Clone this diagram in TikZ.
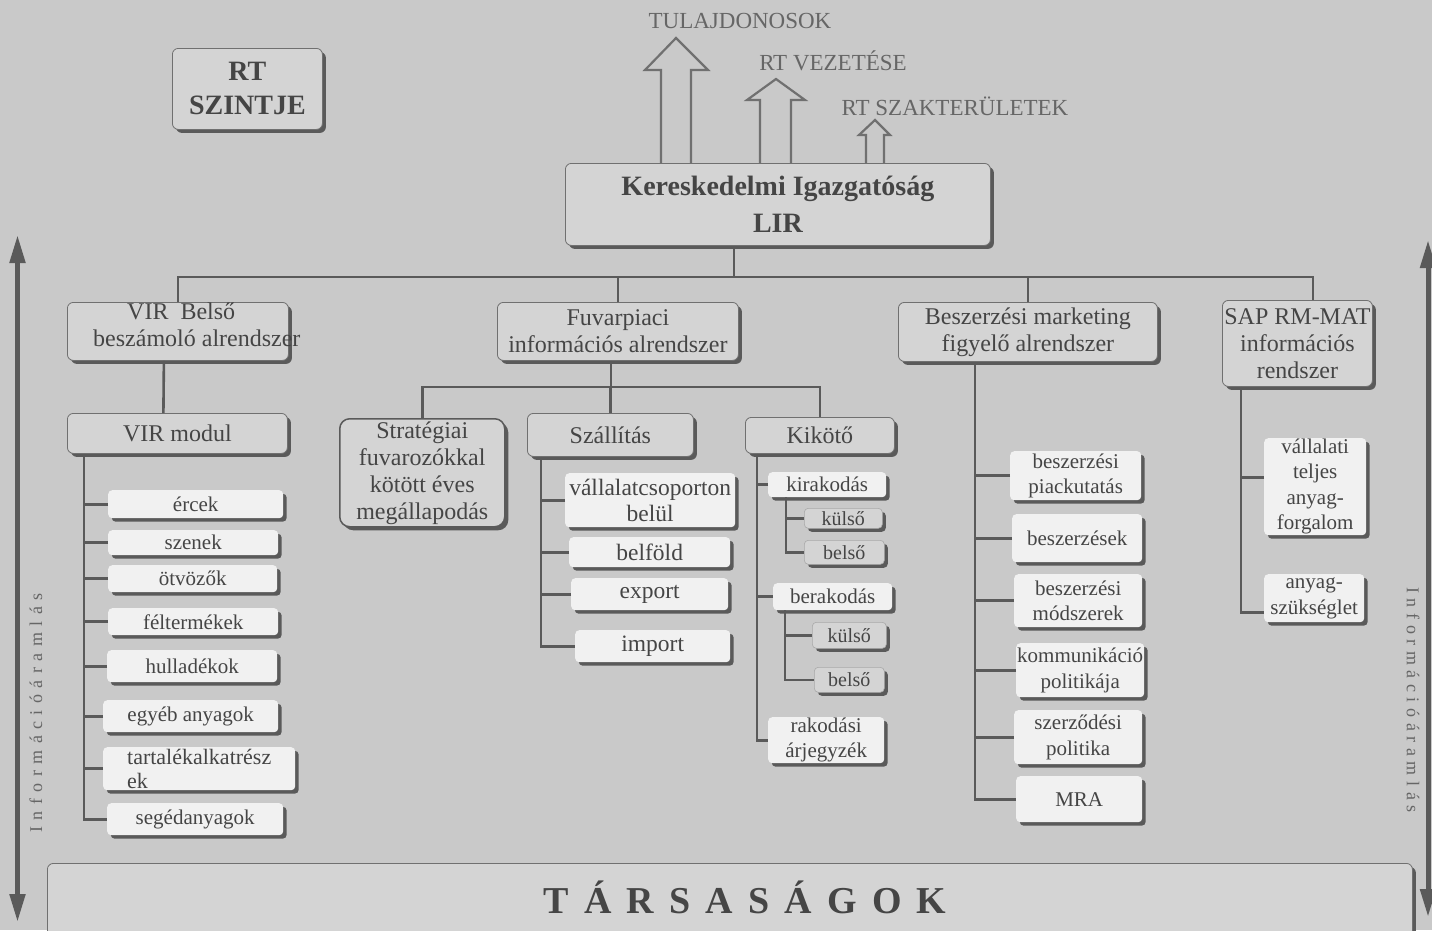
\documentclass[tikz,border=0pt]{standalone}
\usepackage{fontspec}
\setmainfont{Liberation Serif}
\usetikzlibrary{shadows,arrows.meta}
\definecolor{bgc}{HTML}{C9C9C9}
\definecolor{boxfill}{HTML}{D4D4D4}
\definecolor{whitefill}{HTML}{F1F1F1}
\definecolor{shadowc}{HTML}{5A5A5A}
\definecolor{edgec}{HTML}{707070}
\definecolor{linec}{HTML}{5A5A5A}
\definecolor{txt}{HTML}{454545}
\definecolor{lighttxt}{HTML}{666666}
\newcommand\mybox[7]{\node[#1,anchor=north west,minimum width=#5pt-#3pt,minimum height=#6pt-#4pt] (#2) at (#3,#4) {#7};}
\begin{document}
\begin{tikzpicture}[x=1pt,y=-1pt,
 shad/.style={drop shadow={shadow xshift=3.5pt,shadow yshift=-3.5pt,fill=shadowc,opacity=1}},
 graybox/.style={shad,draw=edgec,line width=0.8pt,fill=boxfill,rounded corners=6pt,inner sep=0pt,text=txt,align=center},
 lvl/.style={graybox,font=\fontsize{24}{27}\selectfont},
 item/.style={shad,fill=whitefill,rounded corners=4pt,inner sep=0pt,text=txt,align=center,font=\fontsize{21}{25.5}\selectfont},
 itemL/.style={item,font=\fontsize{23.5}{26}\selectfont},
 subbox/.style={shad,draw=edgec!60,line width=0.6pt,fill=boxfill,rounded corners=4pt,inner sep=0pt,text=txt,font=\fontsize{20}{24}\selectfont},
 conn/.style={draw=linec,line width=2.6pt},
 blockarrow/.style={draw=edgec,line width=2.2pt,line join=miter,fill=bgc},
 toplabel/.style={text=lighttxt,font=\fontsize{23}{27}\selectfont,anchor=base,inner sep=0pt},
 flow/.style={draw=linec,line width=5pt,{Triangle[length=28pt,width=15pt]}-{Triangle[length=28pt,width=15pt]}},
]
\useasboundingbox (0,0) rectangle (1432,930);
\fill[bgc] (0,0) rectangle (1432,930);

% top block arrows
\draw[blockarrow] (661,163) -- (661,70) -- (645,70) -- (676,38) -- (708,70) -- (691,70) -- (691,163);
\draw[blockarrow] (760,163) -- (760,100) -- (747,100) -- (776,79) -- (805,100) -- (791,100) -- (791,163);
\draw[blockarrow] (866,163) -- (866,135) -- (859,135) -- (875,120) -- (890,135) -- (884,135) -- (884,163);
\node[toplabel] (tul) at (740,28) {TULAJDONOSOK};
\node[toplabel] (vez) at (833,70) {RT VEZETÉSE};
\node[toplabel] (szak) at (955,115) {RT SZAKTERÜLETEK};

% side flow arrows
\coordinate (la1) at (17.5,235); \coordinate (la2) at (17.5,922);
\draw[flow] (la1) -- (la2);
\coordinate (ra1) at (1428,240); \coordinate (ra2) at (1428,917);
\draw[flow] (ra1) -- (ra2);
\node[text=lighttxt,inner sep=0pt,rotate=90,font={\fontsize{18}{20}\selectfont\addfontfeature{LetterSpace=36}}] (lt) at (36,713) {Információáramlás};
\node[text=lighttxt,inner sep=0pt,rotate=-90,font={\fontsize{18}{20}\selectfont\addfontfeature{LetterSpace=31}}] (rtt) at (1413,700) {Információáramlás};

% top boxes
\mybox{graybox,font={\fontsize{28}{34}\selectfont\bfseries}}{rt}{172}{48}{322}{129}{RT\\SZINTJE}
\mybox{graybox,font={\fontsize{28}{37}\selectfont\bfseries}}{lir}{565}{163}{990}{245}{Kereskedelmi Igazgatóság\\LIR}

% level 2
\mybox{lvl}{vir}{67}{302}{288}{360}{}
\node[anchor=north west,inner sep=0pt,align=left,text=txt,font=\fontsize{24}{27}\selectfont] (virT) at (93,303) {\hspace*{34pt}VIR\ \ Belső\\beszámoló alrendszer};
\mybox{lvl}{fuv}{497}{302}{738}{360}{Fuvarpiaci\\információs alrendszer}
\mybox{lvl}{besz}{898}{302}{1157}{361}{Beszerzési marketing\\figyelő alrendszer}
\mybox{lvl}{sap}{1222}{300}{1372}{386}{SAP RM-MAT\\információs\\rendszer}

% VIR branch
\mybox{lvl}{virmod}{67}{413}{287}{453}{VIR modul}
\mybox{item}{ercek}{108}{490}{283}{518}{ércek}
\mybox{item}{szenek}{108}{530}{278}{555}{szenek}
\mybox{item}{otvozok}{108}{565}{277}{592}{ötvözők}
\mybox{item}{felterm}{108}{608}{278}{635}{féltermékek}
\mybox{item}{hullad}{107}{650}{277}{682}{hulladékok}
\mybox{item}{egyeb}{103}{700}{278}{732}{egyéb anyagok}
\mybox{item,align=left,font=\fontsize{22}{24}\selectfont}{tartal}{103}{747}{295}{790}{tartalékalkatrész\\ek}
\mybox{item}{seged}{107}{803}{283}{835}{segédanyagok}

% Fuvarpiaci branch
\mybox{lvl,draw=linec,line width=1.5pt,rounded corners=10pt}{strat}{339}{418}{504}{526}{Stratégiai\\fuvarozókkal\\kötött éves\\megállapodás}
\mybox{lvl}{szal}{527}{413}{693}{456}{Szállítás}
\mybox{lvl}{kik}{745}{417}{894}{453}{Kikötő}
\mybox{itemL}{vcs}{565}{473}{735}{527}{vállalatcsoporton\\belül}
\mybox{itemL}{belf}{569}{537}{730}{567}{belföld}
\mybox{itemL}{exp}{571}{578}{728}{610}{export}
\mybox{itemL}{imp}{575}{630}{730}{662}{import}
\mybox{item}{kirak}{768}{472}{886}{497}{kirakodás}
\mybox{subbox}{kul1}{804}{508}{882}{528}{külső}
\mybox{subbox}{bel1}{804}{540}{884}{564}{belső}
\mybox{item}{berak}{773}{583}{892}{610}{berakodás}
\mybox{subbox}{kul2}{812}{622}{886}{648}{külső}
\mybox{subbox}{bel2}{814}{667}{884}{692}{belső}
\mybox{item}{rak}{768}{717}{884}{763}{rakodási\\árjegyzék}

% Beszerzesi branch
\mybox{item}{piac}{1010}{451}{1141}{500}{beszerzési\\piackutatás}
\mybox{item}{beszk}{1012}{514}{1142}{562}{beszerzések}
\mybox{item}{modsz}{1014}{574}{1142}{627}{beszerzési\\módszerek}
\mybox{item}{komm}{1016}{643}{1144}{697}{kommunikáció\\politikája}
\mybox{item}{szerz}{1014}{710}{1142}{764}{szerződési\\politika}
\mybox{item}{mra}{1016}{776}{1142}{822}{MRA}

% SAP branch
\mybox{item}{vall}{1264}{438}{1366}{535}{vállalati\\teljes\\anyag-\\forgalom}
\mybox{item}{anyag}{1264}{574}{1364}{622}{anyag-\\szükséglet}

% bottom
\mybox{graybox}{tars}{47}{863}{1412}{945}{}
\node[text=txt,inner sep=0pt,font={\fontsize{38}{40}\selectfont\bfseries\addfontfeature{LetterSpace=40}}] (tarsT) at (745,897) {TÁRSASÁGOK};

% connectors
\coordinate (hub) at (734,277);
\coordinate (sapj) at (1313,277);
\draw[conn] (lir.south -| hub) -- (hub);
\draw[conn] (vir.north) |- (sapj) -- (sapj |- sap.north);
\draw[conn] (fuv.north) -- (fuv.north |- hub);
\draw[conn] (besz.north) -- (besz.north |- hub);
\draw[conn] ([xshift=-14pt]vir.south) -- ([xshift=-14pt]virmod.north);

\coordinate (vx) at (84,0);
\draw[conn] (virmod.south -| vx) |- (seged.west);
\foreach \n in {ercek,szenek,otvozok,felterm,hullad,egyeb,tartal} \draw[conn] (\n.west) -- (\n.west -| vx);

\coordinate (fj) at (611,387);
\draw[conn] (fuv.south -| fj) -- (fj);
\draw[conn] (strat.north) |- (fj) -| (kik.north);
\draw[conn] (szal.north) -- (szal.north |- fj);

\coordinate (sx) at (541,0);
\draw[conn] (szal.south -| sx) |- (imp.west);
\foreach \n in {vcs,belf,exp} \draw[conn] (\n.west) -- (\n.west -| sx);

\coordinate (kx) at (757,0);
\draw[conn] (kik.south -| kx) |- (rak.west);
\draw[conn] (kirak.west) -- (kirak.west -| kx);
\draw[conn] (berak.west) -- (berak.west -| kx);
\coordinate (k1x) at (786,0);
\draw[conn] (kirak.south -| k1x) |- (bel1.west);
\draw[conn] (kul1.west) -- (kul1.west -| k1x);
\coordinate (k2x) at (785,0);
\draw[conn] (berak.south -| k2x) |- (bel2.west);
\draw[conn] (kul2.west) -- (kul2.west -| k2x);

\coordinate (bx) at (975,0);
\draw[conn] (besz.south -| bx) |- (mra.west);
\foreach \n in {piac,beszk,modsz,komm,szerz} \draw[conn] (\n.west) -- (\n.west -| bx);

\coordinate (sx2) at (1241,0);
\draw[conn] (sap.south -| sx2) |- ([yshift=-14pt]anyag.west);
\draw[conn] ([yshift=9pt]vall.west) -- ([yshift=9pt]vall.west -| sx2);
\end{tikzpicture}
\end{document}
